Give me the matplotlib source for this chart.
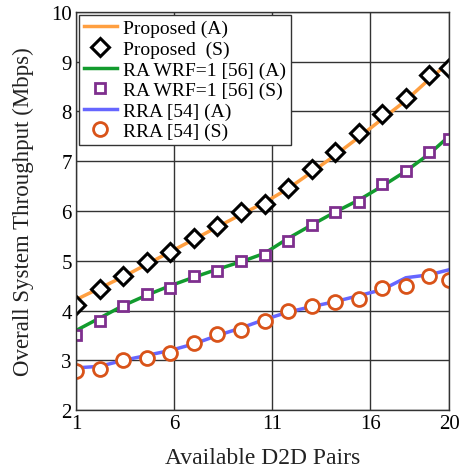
import matplotlib

matplotlib.use("Agg")
import matplotlib.pyplot as plt

plt.rcParams["font.family"] = ["Liberation Serif", "DejaVu Serif"]
plt.rcParams["mathtext.fontset"] = "stix"

# D2D pair counts where the simulated points sit
pairs = [1, 2.2, 3.4, 4.6, 5.8, 7.0, 8.2, 9.4, 10.6, 11.8, 13.0, 14.2, 15.4, 16.6, 17.8, 19.0, 20]

# analytical curves (A)
proposed_a = [4.22, 4.45, 4.68, 4.93, 5.18, 5.43, 5.68, 5.93, 6.17, 6.45, 6.78, 7.12, 7.48, 7.85, 8.22, 8.65, 8.98]
ra_wrf_a = [3.60, 3.85, 4.10, 4.31, 4.50, 4.67, 4.83, 4.98, 5.15, 5.45, 5.72, 5.98, 6.22, 6.50, 6.80, 7.15, 7.50]
rra_a = [2.85, 2.88, 3.00, 3.10, 3.20, 3.33, 3.50, 3.65, 3.82, 3.97, 4.08, 4.18, 4.30, 4.42, 4.66, 4.72, 4.82]

# simulated points (S)
proposed_s = [4.12, 4.43, 4.70, 4.98, 5.17, 5.45, 5.70, 5.99, 6.15, 6.46, 6.85, 7.19, 7.56, 7.95, 8.28, 8.73, 8.88]
ra_wrf_s = [3.50, 3.79, 4.09, 4.34, 4.45, 4.69, 4.79, 5.00, 5.12, 5.39, 5.72, 5.99, 6.19, 6.55, 6.80, 7.19, 7.45]
rra_s = [2.79, 2.82, 3.00, 3.04, 3.14, 3.34, 3.54, 3.61, 3.79, 4.00, 4.09, 4.17, 4.23, 4.45, 4.50, 4.70, 4.62]

x_ticks = [1, 6, 11, 16, 20]

fig = plt.figure(figsize=(4.61, 4.77), dpi=100)
ax = fig.add_axes([0.165, 0.138, 0.809, 0.835])

ax.plot(pairs, proposed_a, color="#FF9F40", linewidth=2.5, label="Proposed (A)")
ax.plot(pairs, proposed_s, linestyle="none", marker="D", markersize=9.5,
        markerfacecolor="white", markeredgecolor="black", markeredgewidth=2.2,
        label="Proposed  (S)")
ax.plot(pairs, ra_wrf_a, color="#129B2E", linewidth=2.5, label="RA WRF=1 [56] (A)")
ax.plot(pairs, ra_wrf_s, linestyle="none", marker="s", markersize=7.5,
        markerfacecolor="white", markeredgecolor="#7E2F8E", markeredgewidth=2.0,
        label="RA WRF=1 [56] (S)")
ax.plot(pairs, rra_a, color="#6666FF", linewidth=2.5, label="RRA [54] (A)")
ax.plot(pairs, rra_s, linestyle="none", marker="o", markersize=10,
        markerfacecolor="white", markeredgecolor="#D95319", markeredgewidth=2.0,
        label="RRA [54] (S)")

ax.set_xlim(1, 20)
ax.set_ylim(2, 10)
ax.set_xticks(x_ticks)
ax.set_yticks(range(2, 11))
ax.tick_params(labelsize=15, length=0, pad=3)
ax.grid(True, color="#333333", linewidth=1.0)
ax.set_axisbelow(True)
for spine in ax.spines.values():
    spine.set_color("#333333")
    spine.set_linewidth(1.0)

ax.set_xlabel("Available D2D Pairs", fontsize=17, labelpad=10, color="#222222")
ax.set_ylabel("Overall System Throughput (Mbps)", fontsize=16.5, labelpad=12, color="#222222")

leg = ax.legend(loc="upper left", fontsize=14, handlelength=1.7, handletextpad=0.3,
                labelspacing=0.15, borderpad=0.25, borderaxespad=0.15,
                fancybox=False, framealpha=1.0)
leg.get_frame().set_edgecolor("#333333")
leg.get_frame().set_linewidth(1.0)

fig.savefig("out.png", dpi=100)
